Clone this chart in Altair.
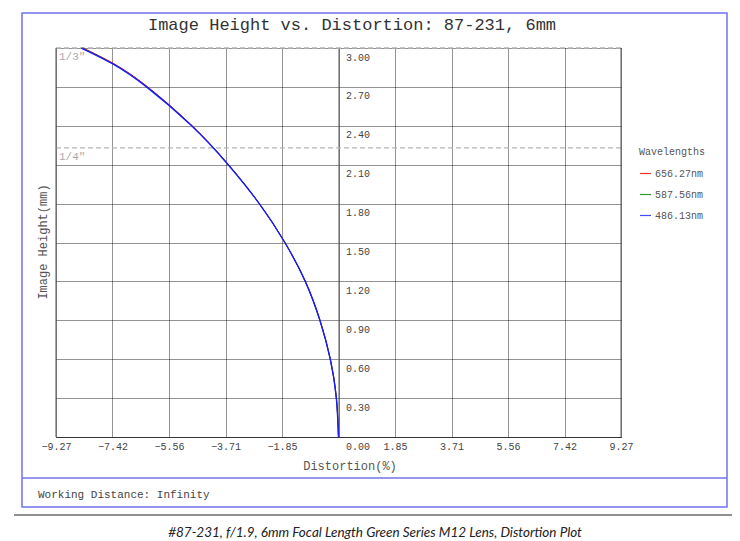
import altair as alt
import pandas as pd

# ---- data ----
heights = [0.0, 0.3, 0.6, 0.9, 1.2, 1.5, 1.8, 2.1, 2.4, 2.7, 2.879, 3.0]
dist_656 = [0.0, -0.07, -0.27, -0.61, -1.09, -1.76, -2.60, -3.61, -4.80, -6.26, -7.37, -8.38]
dist_587 = [0.0, -0.07, -0.27, -0.61, -1.09, -1.76, -2.60, -3.61, -4.81, -6.28, -7.40, -8.41]
dist_486 = [0.0, -0.07, -0.27, -0.61, -1.09, -1.76, -2.60, -3.62, -4.82, -6.30, -7.42, -8.44]
wavelengths = ["656.27nm", "587.56nm", "486.13nm"]
colors = ["#ff0000", "#008000", "#1a1aff"]
x_ticks = [-9.27, -7.416, -5.562, -3.708, -1.854, 0.0, 1.854, 3.708, 5.562, 7.416, 9.27]
y_ticks = [0.0, 0.3, 0.6, 0.9, 1.2, 1.5, 1.8, 2.1, 2.4, 2.7, 3.0]
sensor_names = ['1/3"', '1/4"']
sensor_heights = [3.0, 2.23]
title_text = "Image Height vs. Distortion: 87-231, 6mm"
x_title = "Distortion(%)"
y_title = "Image Height(mm)"
footer_text = "Working Distance: Infinity"
caption_text = "#87-231, f/1.9, 6mm Focal Length Green Series M12 Lens, Distortion Plot"

W, H = 565, 389
MONO = "Liberation Mono"
BLUE_FRAME = "#7272ee"

rows = []
for wl, ds in zip(wavelengths, [dist_656, dist_587, dist_486]):
    for i, (h, d) in enumerate(zip(heights, ds)):
        rows.append({"wl": wl, "h": h, "d": d, "order": i})
df = pd.DataFrame(rows)

xscale = alt.Scale(domain=[-9.27, 9.27], nice=False, zero=False)
yscale = alt.Scale(domain=[0, 3.0], nice=False)

grid_style = dict(grid=True, gridDash=[1, 1], gridColor="#000", gridOpacity=0.85, gridWidth=1)

x_enc = alt.X("d:Q", scale=xscale, axis=alt.Axis(
    values=x_ticks, tickCount=20,
    labelExpr="datum.value == 0 ? '' : format(datum.value, '.2f')",
    title=None, domainColor="#333", ticks=False, labelPadding=4,
    labelFont=MONO, labelFontSize=10, labelColor="#444",
    labelFlush=False, labelOverlap=False, **grid_style))
y_enc = alt.Y("h:Q", scale=yscale, axis=alt.Axis(
    orient="right", offset=-W / 2, values=y_ticks, tickCount=20, format=".2f",
    title=None, domainColor="#555", ticks=False, labelPadding=7,
    labelBaseline="top", labelOffset=4,
    labelFont=MONO, labelFontSize=10, labelColor="#444",
    labelFlush=False, labelOverlap=False, **grid_style))
c_enc = alt.Color("wl:N", scale=alt.Scale(domain=wavelengths, range=colors),
                  legend=alt.Legend(
                      title="Wavelengths", orient="none", legendX=583, legendY=99,
                      titleFont=MONO, titleFontSize=10, titleFontWeight="normal",
                      titleColor="#555", labelFont=MONO, labelFontSize=10,
                      labelColor="#555", symbolType="stroke", symbolSize=121,
                      symbolStrokeWidth=1.2, symbolOpacity=0.8, rowPadding=9, titlePadding=10,
                      padding=0, labelOffset=3))

base = alt.Chart(df)
lines_rg = base.transform_filter(alt.datum.wl != wavelengths[2]).mark_line(
    interpolate="natural", strokeWidth=1.0).encode(
    x=x_enc, y=y_enc, color=c_enc, order="order:Q")
lines_b = base.transform_filter(alt.datum.wl == wavelengths[2]).mark_line(
    interpolate="natural", strokeWidth=1.4).encode(
    x=x_enc, y=y_enc, color=c_enc, order="order:Q")

sens_df = pd.DataFrame({"name": sensor_names, "h": sensor_heights})
sens_rule = alt.Chart(sens_df).mark_rule(color="#b5b5b5", strokeDash=[5, 3], strokeWidth=1.3).encode(
    y=alt.Y("h:Q", scale=yscale), x=alt.value(0), x2=alt.value(W))
sens_text = alt.Chart(sens_df).mark_text(align="left", baseline="top", dy=3,
                                         font=MONO, fontSize=11, color="#aaa").encode(
    y=alt.Y("h:Q", scale=yscale), x=alt.value(3), text="name:N")

deco = alt.Chart(pd.DataFrame({"k": [0]}))
left_b = deco.mark_rule(color="#555").encode(x=alt.value(0), y=alt.value(0), y2=alt.value(H))
right_b = deco.mark_rule(color="#555").encode(x=alt.value(W), y=alt.value(0), y2=alt.value(H))
frame = deco.mark_rect(fillOpacity=0, stroke=BLUE_FRAME, strokeWidth=1.5).encode(
    x=alt.value(-34), x2=alt.value(671), y=alt.value(-35), y2=alt.value(459))
divider = deco.mark_rule(color=BLUE_FRAME, strokeWidth=1.5).encode(
    x=alt.value(-34), x2=alt.value(671), y=alt.value(430))
black_line = deco.mark_rule(color="#222", strokeWidth=1.2).encode(
    x=alt.value(-42), x2=alt.value(676), y=alt.value(467))

title_m = deco.mark_text(font=MONO, fontSize=17, color="#333", align="center", baseline="middle").encode(
    x=alt.value(296), y=alt.value(-23), text=alt.value(title_text))
xt = deco.mark_text(font=MONO, fontSize=12, color="#555", align="center", baseline="middle").encode(
    x=alt.value(294), y=alt.value(418), text=alt.value(x_title))
yt = deco.mark_text(font=MONO, fontSize=12, color="#555", align="center", baseline="middle", angle=270).encode(
    x=alt.value(-13), y=alt.value(194), text=alt.value(y_title))
foot = deco.mark_text(font=MONO, fontSize=11, color="#444", align="left", baseline="middle").encode(
    x=alt.value(-18), y=alt.value(447), text=alt.value(footer_text))
cap = deco.mark_text(font="Lato", fontStyle="italic", fontSize=13.5, color="#222", align="center", baseline="middle").encode(
    x=alt.value(319), y=alt.value(485), text=alt.value(caption_text))

chart = alt.layer(
    frame, divider, black_line, sens_rule, sens_text, lines_rg, lines_b, left_b, right_b,
    title_m, xt, yt, foot, cap
).properties(
    width=W, height=H,
    autosize=alt.AutoSizeParams(type="none"),
    padding={"left": 48, "top": 40, "right": 111, "bottom": 103},
).configure_view(stroke=None)

chart.save("out.html", embed_options={"renderer": "svg", "actions": False})
